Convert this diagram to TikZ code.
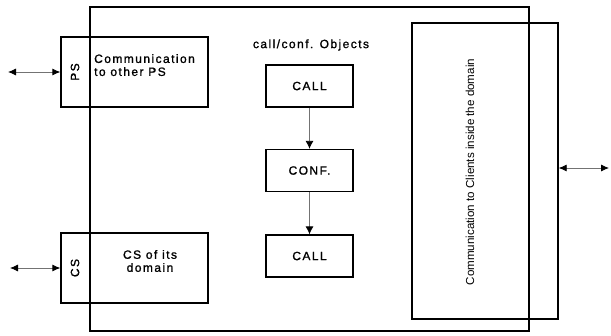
\documentclass[tikz,border=0pt]{standalone}
\usepackage{fontspec}
\setmainfont{Liberation Sans}
\newfontfamily\spacedfont[LetterSpace=12, FakeBold=1.2]{Liberation Sans}
\usepackage{tikz}
\usetikzlibrary{arrows.meta, positioning, calc}

\begin{document}
\begin{tikzpicture}[x=1pt, y=-1pt,
    box/.style={draw, line width=1.3pt, inner sep=0pt},
    label/.style={font=\spacedfont\fontsize{12}{13}\selectfont, inner sep=0pt},
    link/.style={draw=black!55, line width=0.8pt, {Latex[length=8pt,width=7pt,color=black]}-{Latex[length=8pt,width=7pt,color=black]}},
    flow/.style={draw=black!55, line width=0.8pt, -{Latex[length=8pt,width=8pt,color=black]}}]
    \useasboundingbox (0,0) rectangle (611,335);

    % Domain box and side boxes
    \node[box, line width=2.4pt, minimum width=439pt, minimum height=324pt] (domain) at (309.5,169) {};
    \node[box, minimum width=147pt, minimum height=70pt] (psbox) at (134.5,72) {};
    \node[box, minimum width=147pt, minimum height=70pt] (csbox) at (134.5,268) {};
    \node[box, minimum width=146pt, minimum height=296pt] (clients) at (485,171) {};

    % Labels
    \node[label, rotate=90] (pslabel) at (75,72) {PS};
    \node[label, rotate=90] (cslabel) at (75,268) {CS};
    \node[label, anchor=north west, align=left] (pstext) at (94,54) {Communication\\to other PS};
    \node[label, align=center] (cstext) at (150,261) {CS of its\\domain};
    \node[label] (objects) at (311,45) {call/conf. Objects};
    \node[rotate=90, font=\fontsize{11.6}{13}\selectfont, inner sep=0pt] (clientstext) at (470,172) {Communication to Clients inside the domain};

    % Call/conf. objects
    \node[box, label, minimum width=87pt, minimum height=42pt] (call) at (309.5,86) {CALL};
    \node[box, label, minimum width=87pt, minimum height=42pt] (conf) at (309.5,170.5) {CONF.};
    \node[box, label, minimum width=87pt, minimum height=42pt] (callb) at (309.5,256) {CALL};
    \draw[flow] (call) -- (conf);
    \draw[flow] (conf) -- (callb);

    % Outside connections
    \coordinate (psend) at (8,72);
    \coordinate (csend) at (10,268);
    \coordinate (clend) at (609,168);
    \draw[link] (psend) -- (psbox.west);
    \draw[link] (csend) -- (csbox.west);
    \draw[link] (clients.east |- clend) -- (clend);
\end{tikzpicture}
\end{document}
